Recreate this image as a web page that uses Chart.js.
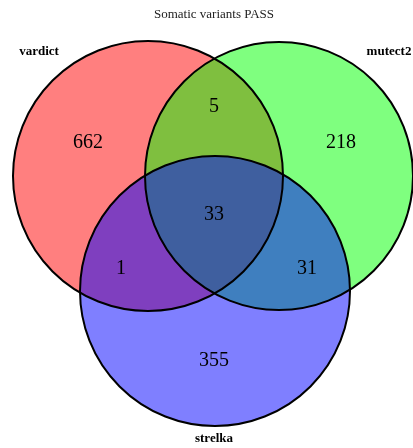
<!DOCTYPE html>
<html>
<head>
<meta charset="utf-8">
<script src="https://cdn.jsdelivr.net/npm/chart.js@4"></script>
<style>
  html, body { margin: 0; padding: 0; background: #fff; }
  #wrap { width: 413px; height: 448px; }
</style>
</head>
<body>
<div id="wrap"><canvas id="venn"></canvas></div>
<script>
// sets and their circles (in chart units, y pointing down)
const setNames = ['vardict', 'mutect2', 'strelka'];
const setColors = ['rgba(255,0,0,0.5)', 'rgba(0,255,0,0.5)', 'rgba(0,0,255,0.5)'];
const circleX = [148, 279, 215];
const circleY = [176, 176, 291];
const circleR = [135, 134, 135];

// region counts and where they sit
const regionCounts = [662, 5, 218, 33, 1, 31, 355];
const regionX = [88, 214, 341, 214, 121, 307, 214];
const regionY = [143, 107, 143, 215, 269, 269, 361];

// set label positions
const labelX = [39, 389, 214];
const labelY = [52, 52, 439];

const chartTitle = 'Somatic variants PASS';

const vennText = {
    id: 'vennText',
    afterDatasetsDraw(chart) {
        const ctx = chart.ctx;
        const xs = chart.scales.x;
        const ys = chart.scales.y;
        ctx.save();
        ctx.fillStyle = '#000';
        ctx.textAlign = 'center';
        ctx.textBaseline = 'middle';

        ctx.font = '20px "Liberation Serif", serif';
        regionCounts.forEach((n, i) => {
            ctx.fillText(String(n), xs.getPixelForValue(regionX[i]), ys.getPixelForValue(regionY[i]));
        });

        ctx.font = 'bold 13px "Liberation Serif", serif';
        setNames.forEach((name, i) => {
            ctx.fillText(name, xs.getPixelForValue(labelX[i]), ys.getPixelForValue(labelY[i]));
        });

        ctx.font = '13px "Liberation Serif", serif';
        ctx.fillStyle = '#222';
        ctx.fillText(chartTitle, xs.getPixelForValue(214), ys.getPixelForValue(15));
        ctx.restore();
    }
};

function radiusFor(i) {
    return (context) => {
        const xs = context.chart.scales.x;
        if (!xs || !context.chart.chartArea) return 0;
        return xs.getPixelForValue(circleR[i]) - xs.getPixelForValue(0);
    };
}

// translucent fills first, black outlines on top
const fills = setNames.map((name, i) => ({
    label: name,
    data: [{ x: circleX[i], y: circleY[i], r: circleR[i] }],
    backgroundColor: setColors[i],
    borderWidth: 0,
    radius: radiusFor(i),
    hoverRadius: 0,
    clip: false,
    order: 10 - i
}));

const outlines = setNames.map((name, i) => ({
    label: name + ' outline',
    data: [{ x: circleX[i], y: circleY[i], r: circleR[i] }],
    backgroundColor: 'rgba(0,0,0,0)',
    borderColor: '#000',
    borderWidth: 2,
    radius: radiusFor(i),
    hoverRadius: 0,
    clip: false,
    order: 0
}));

new Chart(document.getElementById('venn'), {
    type: 'bubble',
    data: { datasets: fills.concat(outlines) },
    plugins: [vennText],
    options: {
        responsive: true,
        maintainAspectRatio: false,
        animation: false,
        layout: { padding: 0, autoPadding: false },
        plugins: {
            legend: { display: false },
            tooltip: { enabled: false },
            title: { display: false }
        },
        scales: {
            x: { type: 'linear', min: 0, max: 413, display: false },
            y: { type: 'linear', min: 0, max: 448, reverse: true, display: false }
        }
    }
});
</script>
</body>
</html>
